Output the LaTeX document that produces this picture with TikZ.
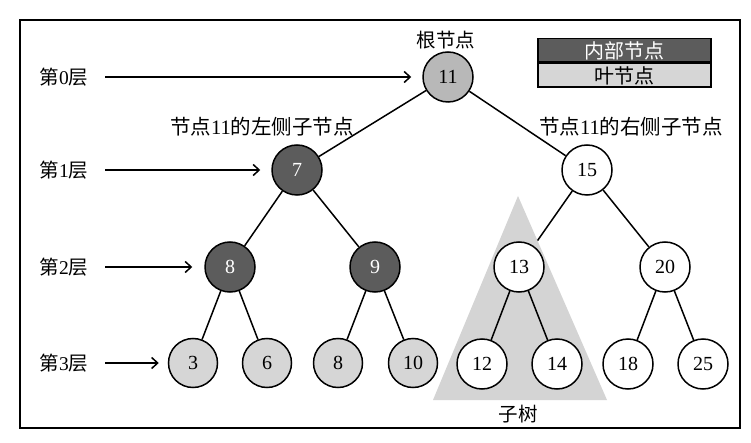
\documentclass[tikz,border=0pt]{standalone}
\usepackage{fontspec}
\setmainfont{Liberation Serif}
\newfontfamily\cjk{Noto Sans CJK SC}
\usetikzlibrary{arrows.meta}
\newcommand\zh[1]{{\cjk #1}}
\definecolor{rootgray}{HTML}{B8B8B8}
\definecolor{intgray}{HTML}{5C5C5C}
\definecolor{leafgray}{HTML}{D6D6D6}
\definecolor{trigray}{HTML}{D4D4D4}
\pgfdeclarelayer{bgpaper}
\pgfdeclarelayer{edgebelow}
\pgfdeclarelayer{tri}
\pgfdeclarelayer{edgeabove}
\pgfsetlayers{bgpaper,edgebelow,tri,edgeabove,main}
\begin{document}
\begin{tikzpicture}[x=1pt,y=-1pt,
  nd/.style={circle, draw, line width=1.5pt, minimum size=50pt, inner sep=0pt, font=\fontsize{20}{20}\selectfont},
  rootnd/.style={nd, fill=rootgray},
  intnd/.style={nd, fill=intgray, text=white},
  leafnd/.style={nd, fill=leafgray, minimum size=49pt},
  plainnd/.style={nd, fill=white},
  edge/.style={line width=1.5pt},
  lvl/.style={-{Straight Barb[length=6pt,width=11pt,line width=1.5pt]}, line width=2pt},
  lbl/.style={inner sep=0pt, font=\fontsize{19.5}{19.5}\selectfont},
  wlbl/.style={inner sep=0pt, font=\fontsize{20.5}{20.5}\selectfont},
  legbox/.style={draw, line width=1.5pt, minimum width=173pt, minimum height=23.5pt, inner sep=0pt, font=\cjk\fontsize{20}{20}\selectfont}
]
\useasboundingbox (0,0) rectangle (751,443);
\begin{pgfonlayer}{bgpaper}
\fill[white] (0,0) rectangle (751,443);
\end{pgfonlayer}
\draw[line width=2.5pt] (20,20) rectangle (740,428);

% triangle (subtree)
\begin{pgfonlayer}{tri}
\fill[trigray] (518,196) -- (607,400) -- (433,400) -- cycle;
\end{pgfonlayer}

% nodes
\node[rootnd] (n11) at (448,77) {11};
\node[intnd] (n7) at (297,170) {7};
\node[plainnd] (n15) at (587,170) {15};
\node[intnd] (n8) at (230,267) {8};
\node[intnd] (n9) at (375,267) {9};
\node[plainnd] (n13) at (519,267) {13};
\node[plainnd] (n20) at (665,267) {20};
\node[leafnd] (l3) at (193,363) {3};
\node[leafnd] (l6) at (267,363) {6};
\node[leafnd] (l8) at (338,363) {8};
\node[leafnd] (l10) at (413,363) {10};
\node[plainnd] (l12) at (482,364) {12};
\node[plainnd] (l14) at (557,364) {14};
\node[plainnd] (l18) at (628,364) {18};
\node[plainnd] (l25) at (703,364) {25};

% edges
\begin{pgfonlayer}{edgebelow}
\draw[edge] (n15) -- (n13);
\end{pgfonlayer}
\begin{pgfonlayer}{edgeabove}
\draw[edge] (n11) -- (n7);
\draw[edge] (n11) -- (n15);
\draw[edge] (n7) -- (n8);
\draw[edge] (n7) -- (n9);
\draw[edge] (n15) -- (n20);
\draw[edge] (n8) -- (l3);
\draw[edge] (n8) -- (l6);
\draw[edge] (n9) -- (l8);
\draw[edge] (n9) -- (l10);
\draw[edge] (n13) -- (l12);
\draw[edge] (n13) -- (l14);
\draw[edge] (n20) -- (l18);
\draw[edge] (n20) -- (l25);
\end{pgfonlayer}

% labels
\node[lbl] (root) at (446,40) {\zh{根节点}};
\node[wlbl] (lc) at (262,127) {\zh{节点}11\zh{的左侧子节点}};
\node[wlbl] (rc) at (631,127) {\zh{节点}11\zh{的右侧子节点}};
\node[lbl] (sub) at (518,414) {\zh{子树}};

% level labels and arrows
\node[lbl] (L0) at (64,77) {\zh{第}0\zh{层}};
\node[lbl] (L1) at (64,170) {\zh{第}1\zh{层}};
\node[lbl] (L2) at (64,267) {\zh{第}2\zh{层}};
\node[lbl] (L3) at (64,363) {\zh{第}3\zh{层}};
\coordinate (a0) at (105,77);
\coordinate (a1) at (105,170);
\coordinate (a2) at (105,267);
\coordinate (a3) at (105,363);
\draw[lvl] (a0) -- ([xshift=-11pt]n11.west);
\draw[lvl] (a1) -- ([xshift=-11pt]n7.west);
\draw[lvl] (a2) -- ([xshift=-12pt]n8.west);
\draw[lvl] (a3) -- ([xshift=-9pt]l3.west);

% legend
\node[legbox, fill=intgray, text=white] (leg1) at (624.5,50.5) {内部节点};
\node[legbox, fill=leafgray, anchor=north] (leg2) at (leg1.south) {叶节点};
\end{tikzpicture}
\end{document}
